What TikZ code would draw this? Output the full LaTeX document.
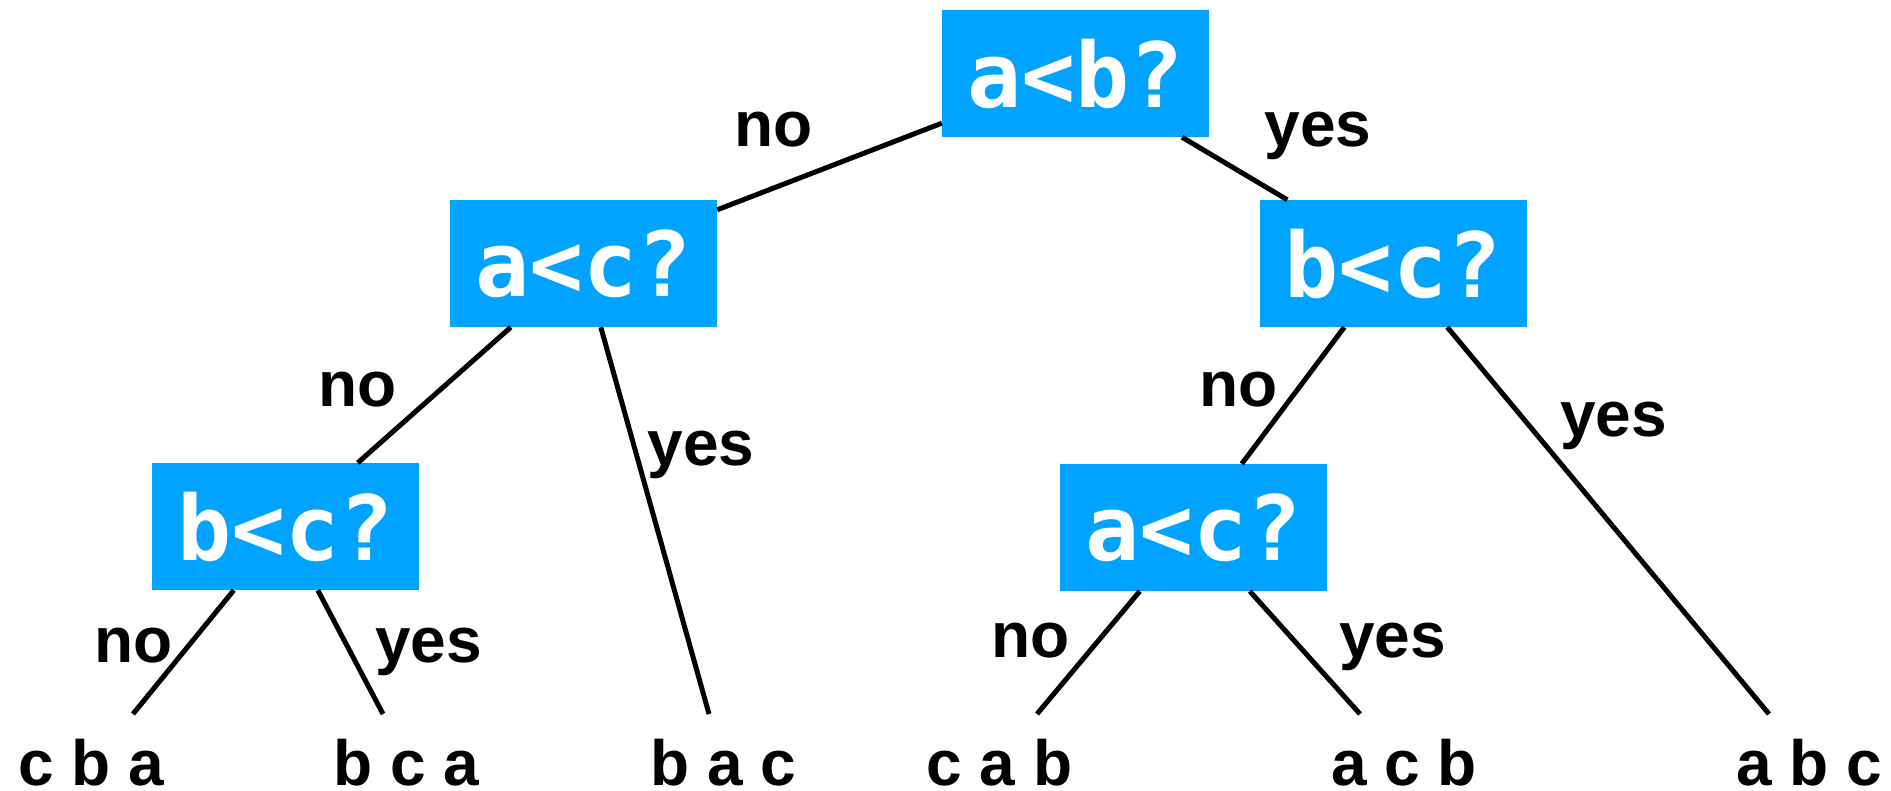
\documentclass[tikz,border=0pt]{standalone}
\usepackage{fontspec}
\setmainfont{Liberation Sans}
\newfontfamily\boxfont{DejaVu Sans Mono}
\definecolor{boxblue}{RGB}{0,163,255}
\begin{document}
\begin{tikzpicture}[x=1pt,y=-1pt,
  qbox/.style={fill=boxblue,text=white,inner sep=0pt,minimum width=267pt,minimum height=127pt,
    font=\boxfont\bfseries\fontsize{90}{90}\selectfont},
  lbl/.style={anchor=base,inner sep=0pt,font=\bfseries\fontsize{64}{64}\selectfont},
  leaf/.style={lbl,text depth=0pt},
  edge/.style={line width=5pt}]
\useasboundingbox (0,0) rectangle (1891,791);
% question boxes
\node[qbox] (ab)  at (1075.5,73.5) {a<b?};
\node[qbox] (ac1) at (583.5,263.5) {a<c?};
\node[qbox] (bc1) at (1393,263.5) {b<c?};
\node[qbox] (bc2) at (285.5,526.5) {b<c?};
\node[qbox] (ac2) at (1193.5,527.5) {a<c?};
% leaves
\node[leaf] (l1) at (91.5,785) {c b a};
\node[leaf] (l2) at (406.5,785) {b c a};
\node[leaf] (l3) at (723.5,785) {b a c};
\node[leaf] (l4) at (999.5,785) {c a b};
\node[leaf] (l5) at (1404,785) {a c b};
\node[leaf] (l6) at (1809.5,785) {a b c};
% free ends of connectors
\coordinate (e1) at (133,714);
\coordinate (e2) at (383,714);
\coordinate (e3) at (709,714);
\coordinate (e4) at (1037,714);
\coordinate (e5) at (1360,714);
\coordinate (e6) at (1769,714);
% connectors
\draw[edge] ([yshift=14pt]ab.south west) -- ([yshift=-10pt]ac1.north east);
\draw[edge] ([xshift=106.5pt]ab.south) -- ([xshift=28pt]bc1.north west);
\draw[edge] ([xshift=61pt]ac1.south west) -- ([xshift=206pt]bc2.north west);
\draw[edge] ([xshift=151pt]ac1.south west) -- (e3);
\draw[edge] ([xshift=85pt]bc1.south west) -- ([xshift=182pt]ac2.north west);
\draw[edge] ([xshift=188pt]bc1.south west) -- (e6);
\draw[edge] ([xshift=82pt]bc2.south west) -- (e1);
\draw[edge] ([xshift=166pt]bc2.south west) -- (e2);
\draw[edge] ([xshift=80pt]ac2.south west) -- (e4);
\draw[edge] ([xshift=190pt]ac2.south west) -- (e5);
% edge labels
\node[lbl] (n1) at (773.5,147) {no};
\node[lbl] (y1) at (1318,147) {yes};
\node[lbl] (n2) at (357.5,407) {no};
\node[lbl] (y2) at (701,466) {yes};
\node[lbl] (n3) at (1238.5,407) {no};
\node[lbl] (y3) at (1613.5,437) {yes};
\node[lbl] (n4) at (133.5,662) {no};
\node[lbl] (y4) at (428.5,662) {yes};
\node[lbl] (n5) at (1030.5,657) {no};
\node[lbl] (y5) at (1392.5,657) {yes};
\end{tikzpicture}
\end{document}
